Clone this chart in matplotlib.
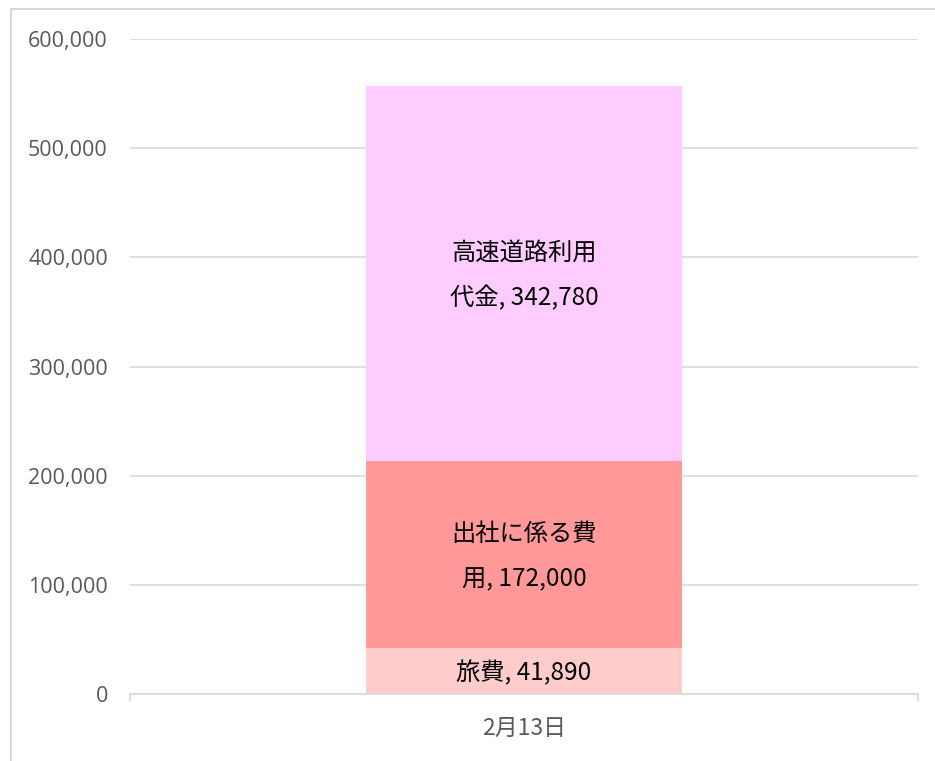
import matplotlib.pyplot as plt
from matplotlib.patches import Rectangle
from matplotlib.ticker import FuncFormatter

plt.rcParams['font.family'] = ['Noto Sans CJK JP', 'DejaVu Sans']

categories = ['2月13日']
series_names = ['旅費', '出社に係る費用', '高速道路利用代金']
label_texts = ['旅費, 41,890', '出社に係る費\n用, 172,000', '高速道路利用\n代金, 342,780']
values = [41890, 172000, 342780]
colors = ['#FFCCCC', '#FF9999', '#FFCCFF']

fig = plt.figure(figsize=(9.35, 7.61), dpi=100)
ax = fig.add_axes([130 / 935, 67 / 761, 788 / 935, 655 / 761])

# outer chart border (cut off at right and bottom)
fig.patches.append(Rectangle((11 / 935, -0.05), 1.0, (752 / 761) + 0.05,
                             transform=fig.transFigure, fill=False,
                             edgecolor='#D9D9D9', linewidth=1.5))

bottom = 0
for name, v, c, txt in zip(series_names, values, colors, label_texts):
    ax.bar(0, v, width=0.4, bottom=bottom, color=c, label=name, zorder=2)
    ax.text(0, bottom + v / 2 - 2000, txt, ha='center', va='center',
            fontsize=17.5, color='black', linespacing=2.0, zorder=3)
    bottom += v

ax.set_xlim(-0.5, 0.5)
ax.set_ylim(0, 600000)
ax.set_yticks(range(0, 600001, 100000))
ax.yaxis.set_major_formatter(FuncFormatter(lambda x, p: f'{int(x):,}'))
ax.grid(axis='y', color='#D9D9D9', linewidth=1.2, zorder=0)
ax.set_axisbelow(True)

for s in ['top', 'right', 'left']:
    ax.spines[s].set_visible(False)
ax.spines['bottom'].set_color('#D9D9D9')
ax.spines['bottom'].set_linewidth(1.2)

ax.tick_params(axis='y', length=0, labelsize=15.5, labelcolor='#595959', pad=16)
for lab in ax.get_yticklabels():
    lab.set_family(['Open Sans', 'DejaVu Sans'])
ax.set_xticks([-0.5, 0.5])
ax.set_xticklabels(['', ''])
ax.tick_params(axis='x', length=5, color='#D9D9D9', width=1.2)
ax.text(0, -0.052, categories[0], transform=ax.get_xaxis_transform(),
        ha='center', va='center', fontsize=16.5, color='#595959')

fig.savefig('out.png', dpi=100)
